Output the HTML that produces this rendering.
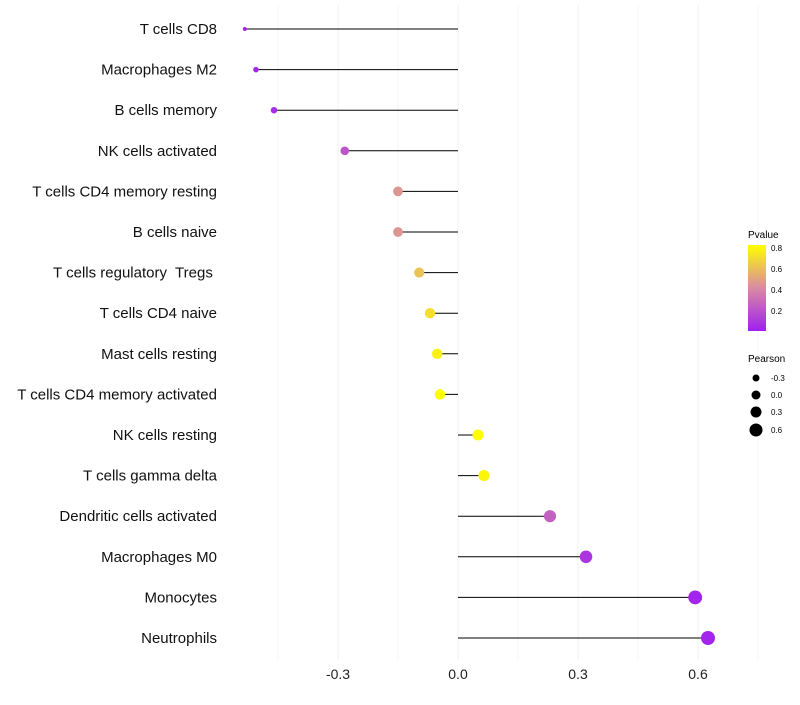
<!DOCTYPE html>
<html><head><meta charset="utf-8"><style>
body{margin:0;background:#fff;font-family:"Liberation Sans",sans-serif}
svg text{font-family:"Liberation Sans",sans-serif;white-space:pre}
</style></head><body>
<svg id="c" width="800" height="700">
<defs><linearGradient id="pg" x1="0" y1="1" x2="0" y2="0">
<stop offset="0" stop-color="#a020f0"/><stop offset="0.5" stop-color="#d98aa3"/><stop offset="1" stop-color="#ffff00"/>
</linearGradient></defs>
<g id="grid"></g><g id="marks"></g><g id="labels"></g>
<g>
<text x="748" y="238" font-size="10">Pvalue</text>
<rect x="748" y="245" width="18" height="86" fill="url(#pg)"/>
<text x="771" y="251" font-size="8">0.8</text><text x="771" y="272" font-size="8">0.6</text>
<text x="771" y="293" font-size="8">0.4</text><text x="771" y="314" font-size="8">0.2</text>
</g>
<g>
<text x="748" y="362" font-size="10">Pearson</text>
<circle cx="756" cy="378" r="3.5"/><text x="771" y="381" font-size="8">-0.3</text>
<circle cx="756" cy="395" r="4.5"/><text x="771" y="398" font-size="8">0.0</text>
<circle cx="756" cy="412" r="5.5"/><text x="771" y="415" font-size="8">0.3</text>
<circle cx="756" cy="430" r="6.5"/><text x="771" y="433" font-size="8">0.6</text>
</g>
</svg>
<script>
const categories=["T cells CD8","Macrophages M2","B cells memory","NK cells activated","T cells CD4 memory resting","B cells naive","T cells regulatory  Tregs ","T cells CD4 naive","Mast cells resting","T cells CD4 memory activated","NK cells resting","T cells gamma delta","Dendritic cells activated","Macrophages M0","Monocytes","Neutrophils"];
const pearson=[-0.533,-0.505,-0.46,-0.283,-0.15,-0.15,-0.097,-0.07,-0.052,-0.045,0.05,0.065,0.23,0.32,0.593,0.625];
const pvalue=[0.02,0.03,0.05,0.2,0.45,0.45,0.6,0.7,0.76,0.85,0.83,0.78,0.25,0.08,0.02,0.02];
const xTicks=[-0.3,0,0.3,0.6];
const xTickLabels=["-0.3","0.0","0.3","0.6"];
const NS="http://www.w3.org/2000/svg";
const x=v=>458+v*400;
const y=i=>29+i*40.6;
const r=v=>2+5*Math.sqrt(Math.max(0,(v+0.533)/1.158));
function lerp(a,b,t){return a.map((c,k)=>Math.round(c+(b[k]-c)*t));}
function col(p){const t=Math.max(0,Math.min(1,p/0.81));const a=[160,32,240],m=[217,138,163],b=[255,255,0];
const c=t<0.5?lerp(a,m,t/0.5):lerp(m,b,(t-0.5)/0.5);return `rgb(${c})`;}
function mk(tag,at,parent){const e=document.createElementNS(NS,tag);for(const k in at)e.setAttribute(k,at[k]);document.getElementById(parent).appendChild(e);return e;}
for(let v=-0.45;v<=0.76;v+=0.15){
const g=mk('line',{x1:x(v),x2:x(v),y1:5,y2:660,stroke:'#f0f0f0','stroke-width':Math.abs(Math.round(v/0.15))%2?0.6:1},'grid');

}
xTicks.forEach((v,i)=>{const t=mk('text',{x:x(v),y:679,'font-size':14,'text-anchor':'middle',fill:'#222'},'labels');t.textContent=xTickLabels[i];

});
categories.forEach((c,i)=>{
const t=mk('text',{x:217,y:y(i)+5,'font-size':15,'text-anchor':'end',fill:'#111'},'labels');t.textContent=c;


const l=mk('line',{x1:x(0),x2:x(pearson[i]),y1:y(i),y2:y(i),stroke:'#000','stroke-width':1},'marks');


const p=mk('circle',{cx:x(pearson[i]),cy:y(i),r:r(pearson[i]),fill:col(pvalue[i])},'marks');


});
</script>
</body></html>
